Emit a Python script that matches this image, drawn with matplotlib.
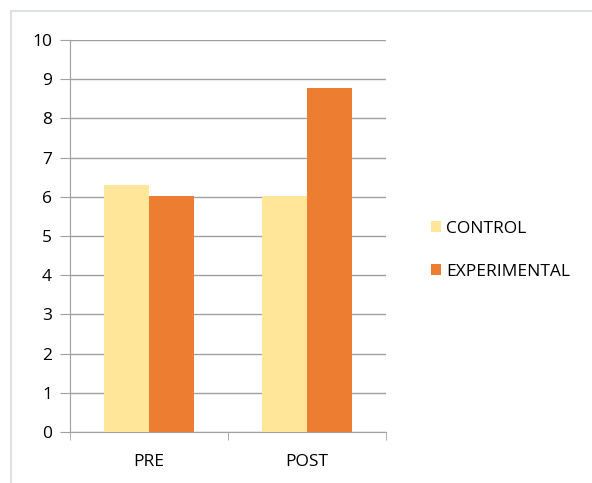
import matplotlib.pyplot as plt
import numpy as np
from matplotlib.patches import Rectangle

# 그룹별 사전/사후 점수
categories = ['PRE', 'POST']
control = [6.30, 6.03]
experimental = [6.03, 8.77]
series_names = ['CONTROL', 'EXPERIMENTAL']
yticks = list(range(0, 11))

plt.rcParams['font.family'] = ['Open Sans', 'DejaVu Sans']

fig = plt.figure(figsize=(5.92, 4.83), dpi=100)
# 차트 영역 테두리 (위, 왼쪽만 보임)
fig.patches.append(Rectangle((11 / 592, -0.05), 1.0, 1.05 - 10.5 / 483, transform=fig.transFigure,
                             fill=False, edgecolor='#dde0e6', linewidth=1.5))

ax = fig.add_axes([70 / 592, 51 / 483, 316 / 592, 392 / 483])
x = np.arange(len(categories))
w = 0.285
ax.bar(x - w / 2, control, w, color='#ffe699', label=series_names[0], zorder=3)
ax.bar(x + w / 2, experimental, w, color='#ed7d31', label=series_names[1], zorder=3)

ax.set_xlim(-0.5, len(categories) - 0.5)
ax.set_ylim(0, 10)
ax.set_yticks(yticks)
ax.yaxis.grid(True, color='#a0a0a0', linewidth=1, zorder=0)
for s in ['top', 'right']:
    ax.spines[s].set_visible(False)
ax.spines['left'].set_color('#a0a0a0')
ax.spines['bottom'].set_color('#a0a0a0')
ax.tick_params(axis='y', length=7, color='#a0a0a0', labelsize=12.5, pad=6)
ax.set_xticks(x)
ax.set_xticklabels(categories, fontsize=12.5)
ax.tick_params(axis='x', length=0, pad=16)
# 범주 경계 눈금
ax.set_xticks([-0.5, 0.5, 1.5], minor=True)
ax.tick_params(axis='x', which='minor', length=6, color='#a0a0a0')

ax.legend(loc='center left', bbox_to_anchor=(1.12, 0.464), frameon=False, fontsize=12.5,
          handlelength=0.6, handleheight=0.6, handletextpad=0.3, labelspacing=1.55,
          borderaxespad=0)

fig.savefig('out.png', dpi=100)
